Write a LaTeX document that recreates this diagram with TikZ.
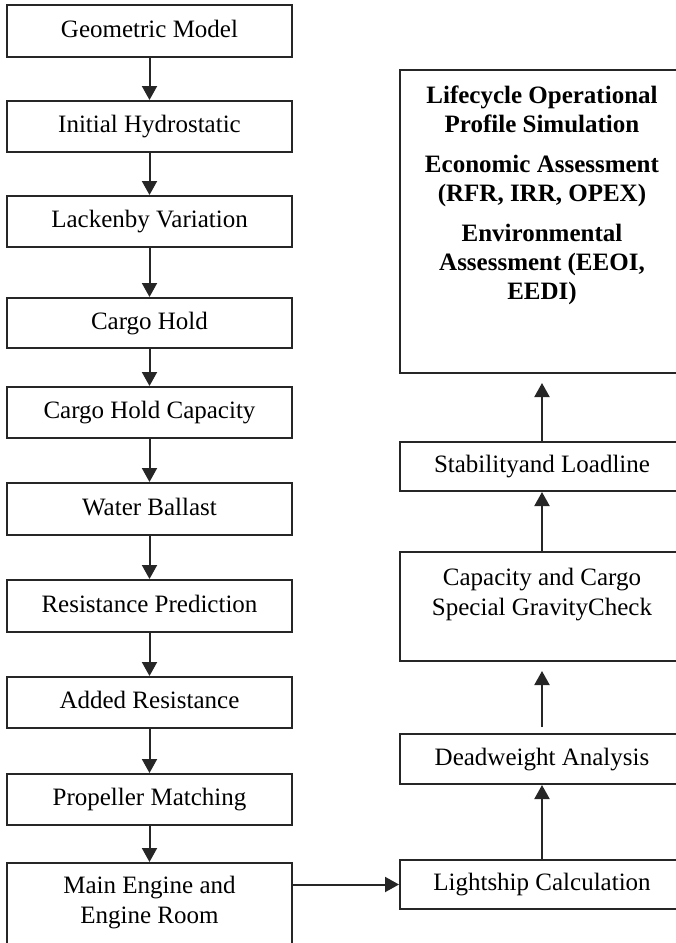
\documentclass[tikz,border=0pt]{standalone}
\usepackage{fontspec}
\setmainfont{Liberation Serif}
\usetikzlibrary{arrows.meta}
\begin{document}
\begin{tikzpicture}[x=1pt, y=-1pt, >={Triangle[length=14pt,width=15pt]},
    box/.style={draw=black!85, line width=2pt, inner sep=0pt, minimum width=285pt,
        align=center, text height=17pt, text depth=5pt, font=\fontsize{25}{29.5}\selectfont},
    link/.style={->, line width=2pt, draw=black!85, fill=black!85}]
    \useasboundingbox (0,0) rectangle (676,943);

    % left column
    \node[box, minimum height=52pt] (geom) at (149.5,31) {Geometric Model};
    \node[box, minimum height=51pt] (hydro) at (149.5,126.5) {Initial Hydrostatic};
    \node[box, minimum height=51pt] (lack) at (149.5,221.5) {Lackenby Variation};
    \node[box, minimum height=50pt] (hold) at (149.5,323) {Cargo Hold};
    \node[box, minimum height=51pt] (holdcap) at (149.5,412.5) {Cargo Hold Capacity};
    \node[box, minimum height=52pt] (ballast) at (149.5,509) {Water Ballast};
    \node[box, minimum height=52pt] (resist) at (149.5,606) {Resistance Prediction};
    \node[box, minimum height=51pt] (added) at (149.5,702.5) {Added Resistance};
    \node[box, minimum height=51pt] (prop) at (149.5,799.5) {Propeller Matching};
    \node[box, anchor=base, text height=60pt, text depth=23pt] (engine) at (149.5,923)
        {Main Engine and\\Engine Room};

    % right column
    \node[box, minimum width=284pt, minimum height=49pt] (light) at (542,884.5) {Lightship Calculation};
    \node[box, minimum width=284pt, minimum height=50pt] (dead) at (542,759) {Deadweight Analysis};
    \node[box, minimum width=284pt, anchor=base, text height=63pt, text depth=46pt] (capck) at (542,615)
        {Capacity and Cargo\\Special GravityCheck};
    \node[box, minimum width=284pt, minimum height=49pt] (stab) at (542,466.5) {Stabilityand Loadline};
    \node[box, minimum width=284pt, anchor=base, text height=229pt, text depth=74pt,
        font=\fontsize{25}{29}\selectfont\bfseries] (life) at (542,299)
        {Lifecycle Operational\\Profile Simulation\\[11pt]
         Economic Assessment\\(RFR, IRR, OPEX)\\[11pt]
         Environmental\\Assessment (EEOI,\\EEDI)};

    \foreach \a/\b in {geom/hydro, hydro/lack, lack/hold, hold/holdcap, holdcap/ballast,
        ballast/resist, resist/added, added/prop, prop/engine}
        \draw[link] (\a.south) -- (\b.north);

    \draw[link] (engine.east |- light.west) -- (light.west);
    \draw[link] (light.north) -- (dead.south);
    \draw[link, shorten <=6pt, shorten >=9pt] (dead.north) -- (capck.south);
    \draw[link] (capck.north) -- (stab.south);
    \draw[link, shorten >=9pt] (stab.north) -- (life.south);
\end{tikzpicture}
\end{document}
